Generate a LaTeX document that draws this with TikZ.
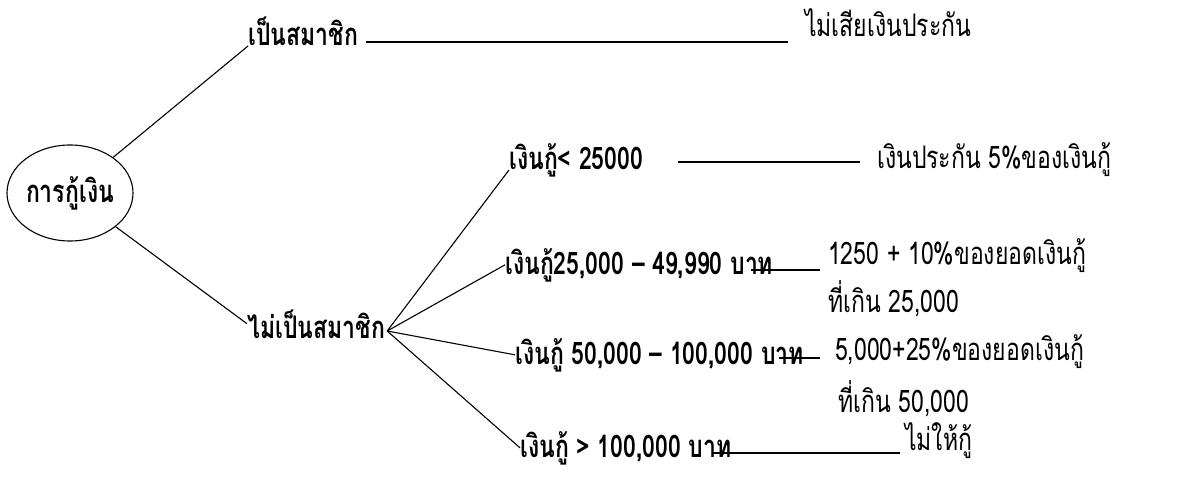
\documentclass[tikz,border=0pt]{standalone}
\usepackage{fontspec}
\newfontfamily\thaifont[Script=Thai]{Loma}
\usetikzlibrary{shapes.geometric,positioning}
\tikzset{
  tall/.style={yscale=1.35, transform shape},
  branch/.style={font=\thaifont\bfseries\fontsize{23}{27}\selectfont, inner sep=0pt, anchor=base west, tall},
  note/.style={font=\thaifont\fontsize{23}{27}\selectfont, inner sep=0pt, anchor=base west, tall},
  link/.style={line width=1.1pt},
}

\begin{document}
\begin{tikzpicture}[x=1pt,y=1pt]
\useasboundingbox (0,0) rectangle (1200,480);

% root
\node[draw, ellipse, line width=1.1pt, minimum width=126pt, minimum height=96pt,
      font=\thaifont\bfseries\fontsize{23}{27}\selectfont, inner sep=0pt] (loan) at (70,287)
      {\scalebox{1}[1.35]{การกู้เงิน}};

% members
\node[branch] (member) at (248,434) {เป็นสมาชิก};
\node[note] (free) at (805,443) {ไม่เสียเงินประกัน};

% non-members and the four loan ranges
\node[branch] (nonmember) at (247,142) {ไม่เป็นสมาชิก};
\node[branch] (r1) at (509,310) {เงินกู้< 25000};
\node[branch] (r2) at (505,206) {เงินกู้25,000 – 49,990 บาท};
\node[branch] (r3) at (515,116) {เงินกู้ 50,000 – 100,000 บาท};
\node[branch] (r4) at (520,23) {เงินกู้ > 100,000 บาท};

% what each range pays
\node[note] (fee1) at (877,311) {เงินประกัน 5\%ของเงินกู้};
\node[note] (fee2) at (828,215) {1250 + 10\%ของยอดเงินกู้};
\node[note] (fee2b) at (828,168) {ที่เกิน 25,000};
\node[note] (fee3) at (835,120) {5,000+25\%ของยอดเงินกู้};
\node[note] (fee3b) at (838,68) {ที่เกิน 50,000};
\node[note] (fee4) at (905,30) {ไม่ให้กู้};

% branches
\draw[link] (loan) -- (member.base west);
\draw[link] (loan) -- (nonmember.west);
\coordinate (fan) at ([xshift=2pt,yshift=7pt]nonmember.base east);
\draw[link] (fan) -- (r1.base west);
\draw[link] (fan) -- (r2.west);
\draw[link] (fan) -- (r3.west);
\draw[link] (fan) -- (r4.west);

% leader lines
\coordinate (m0) at ([shift={(8pt,4pt)}]member.base east);
\draw[link, shorten >=17pt] (m0) -- (m0 -| free.west);
\coordinate (l1) at ([shift={(35pt,8pt)}]r1.base east);
\draw[link, shorten >=17pt] (l1) -- (l1 -| fee1.west);
\coordinate (l2) at ([shift={(-22pt,4pt)}]r2.base east);
\draw[link, shorten >=8pt] (l2) -- (l2 -| fee2.west);
\coordinate (l3) at ([shift={(-25pt,6pt)}]r3.base east);
\draw[link, shorten >=15pt] (l3) -- (l3 -| fee3.west);
\coordinate (l4) at ([shift={(-20pt,4pt)}]r4.base east);
\draw[link, shorten >=5pt] (l4) -- (l4 -| fee4.west);
\end{tikzpicture}
\end{document}
